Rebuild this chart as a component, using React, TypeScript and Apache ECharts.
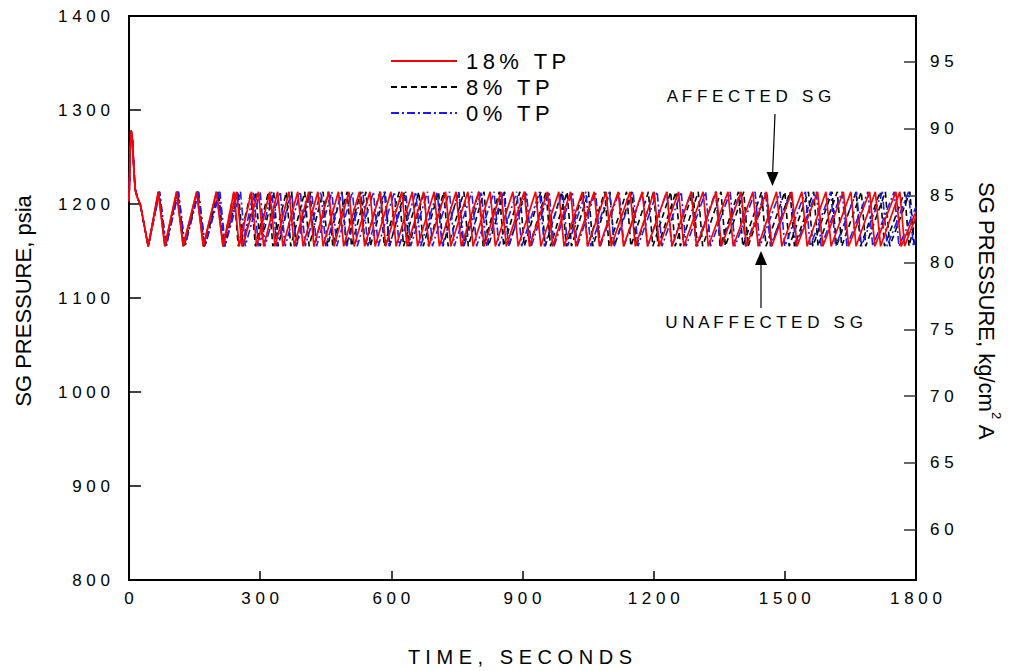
import React, { useEffect, useRef } from "react";
import * as echarts from "echarts";

// ---------------- data ----------------
const X_MIN = 0;
const X_MAX = 1800;
const X_INTERVAL = 300;
const PSIA_MIN = 800;
const PSIA_MAX = 1400;
const PSIA_INTERVAL = 100;
const KG_TICKS = [60, 65, 70, 75, 80, 85, 90, 95];
const PSIA_PER_KGCM2 = 14.2233;

const CASE_NAMES = ["18% TP", "8% TP", "0% TP"];

// plateau band of the relief-valve cycling (psia)
const PEAK_PSIA = 1213;
const TROUGH_PSIA = 1155;

// common start-up transient
const startupTime = [0, 3, 5, 8, 11, 14, 19, 26, 44];
const startupPsia = [1203, 1260, 1278, 1268, 1238, 1216, 1207, 1199, 1155];

// turning points after start-up, alternating peak, trough, peak, trough ... (s)
const red18A = [67, 82, 109, 124, 155, 170, 200, 215, 246, 259, 296, 308, 340, 352, 386, 398, 432, 444, 479, 491, 527, 539, 575, 587, 624, 636, 674, 686, 724, 736, 775, 787, 826, 838, 878, 890, 930, 942, 983, 995, 1037, 1049, 1091, 1103, 1146, 1158, 1201, 1213, 1257, 1269, 1313, 1325, 1370, 1382, 1427, 1439, 1481, 1493, 1539, 1551, 1594, 1606, 1651, 1663, 1707, 1719, 1763, 1774];
const red18AEnd = 1187;
const red18B = [67, 82, 109, 124, 155, 170, 200, 215, 240, 252, 280, 292, 322, 334, 366, 378, 411, 423, 457, 469, 503, 515, 551, 563, 599, 611, 648, 660, 698, 710, 748, 760, 800, 812, 851, 863, 904, 916, 957, 969, 1010, 1022, 1064, 1076, 1119, 1131, 1174, 1186, 1230, 1242, 1286, 1298, 1343, 1355, 1400, 1412, 1458, 1470, 1516, 1528, 1575, 1587, 1634, 1646, 1694, 1706, 1754, 1766];
const red18BEnd = 1192;

const black8A = [68, 83, 111, 126, 157, 172, 203, 217, 250, 261, 290, 300, 331, 341, 372, 382, 414, 424, 456, 466, 499, 509, 542, 552, 586, 596, 630, 640, 675, 685, 720, 730, 766, 776, 812, 822, 859, 869, 906, 916, 954, 964, 1002, 1012, 1051, 1061, 1100, 1110, 1150, 1160, 1200, 1210, 1251, 1261, 1302, 1312, 1354, 1364, 1406, 1416, 1459, 1469, 1512, 1522, 1566, 1576, 1620, 1630, 1675, 1685, 1730, 1740, 1786, 1796];
const black8AEnd = 1162;
const black8B = [68, 83, 111, 126, 157, 172, 205, 216, 240, 250, 279, 289, 319, 329, 360, 370, 402, 412, 444, 454, 487, 497, 530, 540, 574, 584, 618, 628, 663, 673, 708, 718, 754, 764, 800, 810, 847, 857, 894, 904, 942, 952, 990, 1000, 1039, 1049, 1088, 1098, 1138, 1148, 1188, 1198, 1239, 1249, 1290, 1300, 1342, 1352, 1394, 1404, 1447, 1457, 1500, 1510, 1554, 1564, 1608, 1618, 1663, 1673, 1718, 1728, 1774, 1784];
const black8BEnd = 1185;

const blue0A = [70, 85, 113, 128, 159, 174, 205, 219, 255, 266, 300, 311, 346, 357, 392, 403, 439, 450, 487, 498, 535, 546, 584, 595, 633, 644, 683, 694, 733, 744, 784, 795, 835, 846, 887, 898, 939, 950, 992, 1003, 1045, 1056, 1099, 1110, 1153, 1164, 1208, 1219, 1263, 1274, 1319, 1330, 1375, 1386, 1432, 1443, 1489, 1500, 1547, 1558, 1605, 1616, 1664, 1675, 1723, 1734, 1783, 1794];
const blue0AEnd = 1163;
const blue0B = [70, 85, 113, 128, 159, 174, 208, 220, 248, 259, 285, 296, 327, 338, 372, 383, 418, 429, 464, 475, 511, 522, 559, 570, 607, 618, 656, 667, 705, 716, 755, 766, 806, 817, 857, 868, 909, 920, 961, 972, 1014, 1025, 1067, 1078, 1121, 1132, 1175, 1186, 1230, 1241, 1286, 1297, 1342, 1353, 1399, 1410, 1456, 1467, 1514, 1525, 1572, 1583, 1631, 1642, 1690, 1701, 1750, 1761];
const blue0BEnd = 1197;

// ---------------- helpers ----------------
const FONT = "'Liberation Sans', Arial, Helvetica, sans-serif";
const spaced = (s: string) => s.split("").join(" ");
const thin = (s: string) => s.split("").join("\u2009");

function buildSeries(turns: number[], endPsia: number): number[][] {
  const pts: number[][] = startupTime.map((t, i) => [t, startupPsia[i]]);
  turns.forEach((t, i) => pts.push([t, i % 2 === 0 ? PEAK_PSIA : TROUGH_PSIA]));
  pts.push([X_MAX, endPsia]);
  return pts;
}

const RED = "#ff0000";
const BLACK = "#000000";
const BLUE = "#1a1aff";

function lineSeries(name: string, data: number[][], color: string, type: any, width: number) {
  return {
    name,
    type: "line",
    data,
    showSymbol: false,
    symbol: "none",
    yAxisIndex: 0,
    lineStyle: { color, width, type },
    itemStyle: { color },
    silent: true,
  };
}

export default function App() {
  const ref = useRef<HTMLDivElement>(null);

  useEffect(() => {
    document.body.style.margin = "0";
    if (!ref.current) return;
    const chart = echarts.init(ref.current, undefined, { renderer: "svg" });

    const blackDash = [6, 4];
    const blueDash = [8, 3, 2, 3];

    const option: any = {
      animation: false,
      backgroundColor: "#ffffff",
      grid: {
        left: 129,
        right: 94,
        top: 16,
        bottom: 91,
        show: true,
        borderColor: "#000",
        borderWidth: 2,
        backgroundColor: "transparent",
      },
      legend: {
        data: CASE_NAMES,
        orient: "vertical",
        left: 385,
        top: 45,
        itemWidth: 66,
        itemHeight: 14,
        itemGap: 4,
        selectedMode: false,
        itemStyle: { opacity: 0 },
        formatter: (name: string) => thin(name),
        textStyle: { fontFamily: FONT, fontSize: 22, color: "#000", padding: [0, 0, 0, 4] },
      },
      xAxis: {
        type: "value",
        min: X_MIN,
        max: X_MAX,
        interval: X_INTERVAL,
        axisLine: { show: true, lineStyle: { color: "#000", width: 2 } },
        axisTick: { show: true, inside: true, length: 9, lineStyle: { color: "#000", width: 1.5 } },
        splitLine: { show: false },
        axisLabel: {
          fontFamily: FONT,
          fontSize: 17,
          color: "#000",
          margin: 10,
          formatter: (v: number) => spaced(String(v)),
        },
      },
      yAxis: [
        {
          type: "value",
          min: PSIA_MIN,
          max: PSIA_MAX,
          interval: PSIA_INTERVAL,
          position: "left",
          axisLine: { show: true, lineStyle: { color: "#000", width: 2 } },
          axisTick: { show: true, inside: true, length: 12, lineStyle: { color: "#000", width: 1.5 } },
          splitLine: { show: false },
          axisLabel: {
            fontFamily: FONT,
            fontSize: 17,
            color: "#000",
            margin: 19,
            formatter: (v: number) => spaced(String(v)),
          },
        },
        {
          type: "value",
          min: PSIA_MIN / PSIA_PER_KGCM2,
          max: PSIA_MAX / PSIA_PER_KGCM2,
          position: "right",
          axisLine: { show: true, lineStyle: { color: "#000", width: 2 } },
          axisTick: {
            show: true,
            inside: true,
            length: 12,
            customValues: KG_TICKS,
            lineStyle: { color: "#333", width: 1.5 },
          },
          splitLine: { show: false },
          axisLabel: {
            fontFamily: FONT,
            fontSize: 17,
            color: "#000",
            margin: 14,
            customValues: KG_TICKS,
            formatter: (v: number) => spaced(String(Math.round(v))),
          },
        },
      ],
      series: [
        lineSeries(CASE_NAMES[1], buildSeries(black8A, black8AEnd), BLACK, blackDash, 1.6),
        lineSeries(CASE_NAMES[1], buildSeries(black8B, black8BEnd), BLACK, blackDash, 1.6),
        lineSeries(CASE_NAMES[2], buildSeries(blue0A, blue0AEnd), BLUE, blueDash, 1.6),
        lineSeries(CASE_NAMES[2], buildSeries(blue0B, blue0BEnd), BLUE, blueDash, 1.6),
        lineSeries(CASE_NAMES[0], buildSeries(red18A, red18AEnd), RED, "solid", 1.7),
        lineSeries(CASE_NAMES[0], buildSeries(red18B, red18BEnd), RED, "solid", 1.7),
      ],
      graphic: [
        {
          type: "text",
          x: 23,
          y: 301,
          rotation: Math.PI / 2,
          style: {
            text: "SG PRESSURE, psia",
            font: `22px ${FONT}`,
            fill: "#000",
            align: "center",
            verticalAlign: "middle",
          },
        },
        {
          type: "text",
          x: 989,
          y: 311,
          rotation: -Math.PI / 2,
          style: {
            text: "{a|SG PRESSURE, kg/cm}{s|2}{a| A}",
            fill: "#000",
            align: "center",
            verticalAlign: "middle",
            rich: {
              a: { fontFamily: FONT, fontSize: 22, lineHeight: 28, fill: "#000", verticalAlign: "bottom" },
              s: { fontFamily: FONT, fontSize: 13, lineHeight: 28, fill: "#000", verticalAlign: "top" },
            },
          },
        },
        {
          type: "text",
          x: 520,
          y: 657,
          style: {
            text: "T I M E ,   S E C O N D S",
            font: `20px ${FONT}`,
            fill: "#000",
            align: "center",
            verticalAlign: "middle",
          },
        },
        {
          type: "text",
          x: 749,
          y: 96,
          style: {
            text: "A F F E C T E D   S G",
            font: `17px ${FONT}`,
            fill: "#000",
            align: "center",
            verticalAlign: "middle",
          },
        },
        {
          type: "text",
          x: 764,
          y: 322,
          style: {
            text: "U N A F F E C T E D   S G",
            font: `17px ${FONT}`,
            fill: "#000",
            align: "center",
            verticalAlign: "middle",
          },
        },
        {
          type: "line",
          shape: { x1: 775, y1: 114, x2: 772.5, y2: 176 },
          style: { stroke: "#000", lineWidth: 1.2 },
        },
        {
          type: "polygon",
          shape: { points: [[772.5, 186], [766.5, 172], [778.5, 172]] },
          style: { fill: "#000" },
        },
        {
          type: "line",
          shape: { x1: 761, y1: 262, x2: 761, y2: 308 },
          style: { stroke: "#000", lineWidth: 1.2 },
        },
        {
          type: "polygon",
          shape: { points: [[761, 251], [755, 265], [767, 265]] },
          style: { fill: "#000" },
        },
      ],
    };

    chart.setOption(option);
    return () => chart.dispose();
  }, []);

  return <div ref={ref} style={{ width: 1010, height: 671 }} />;
}
